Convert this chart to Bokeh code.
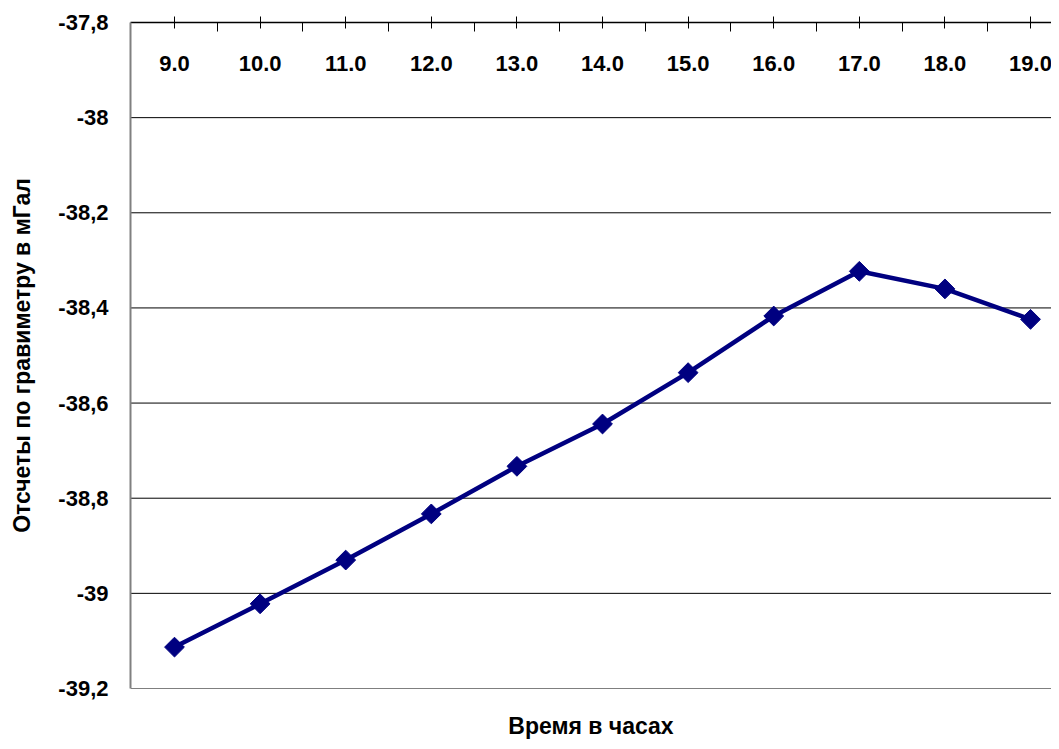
import math
from bokeh.plotting import figure
from bokeh.models import (Range1d, LinearAxis, FixedTicker, CustomJSTickFormatter,
                          ColumnDataSource)
from bokeh.core.properties import value
from bokeh.embed import file_html
from bokeh.resources import INLINE

# ---- data ----
hours = [9, 10, 11, 12, 13, 14, 15, 16, 17, 18, 19]
hour_labels = ["9.0", "10.0", "11.0", "12.0", "13.0", "14.0", "15.0", "16.0", "17.0", "18.0", "19.0"]
readings = [-39.113, -39.022, -38.930, -38.833, -38.733, -38.644, -38.536, -38.417, -38.323, -38.360, -38.424]
y_ticks = [-39.2, -39.0, -38.8, -38.6, -38.4, -38.2, -38.0, -37.8]
x_title = "Время в часах"
y_title = "Отсчеты по гравиметру в мГал"

FONT = "Liberation Sans"
NAVY = "#000080"

p = figure(width=1051, height=741, output_backend="svg", toolbar_location=None,
           x_axis_type=None, y_axis_type=None,
           min_border_left=130, min_border_right=0, min_border_top=22, min_border_bottom=53)
p.x_range = Range1d(hours[0] - 0.514, hours[-1] + 0.245)
p.y_range = Range1d(y_ticks[0], y_ticks[-1])
p.outline_line_color = None
p.background_fill_color = "white"
p.border_fill_color = "white"

# left axis
yax = LinearAxis(ticker=FixedTicker(ticks=y_ticks))
yax.formatter = CustomJSTickFormatter(code="return (Math.round(tick*10)/10).toString().replace('.', ',');")
yax.axis_line_color = "#808080"
yax.axis_line_width = 2
yax.major_tick_line_color = None
yax.minor_tick_line_color = None
yax.major_label_standoff = 16
yax.major_label_text_font = FONT
yax.major_label_text_font_style = "bold"
yax.major_label_text_font_size = "22px"
yax.major_label_text_color = "black"
yax.axis_label = y_title
yax.axis_label_text_font = FONT
yax.axis_label_text_font_style = "bold"
yax.axis_label_text_font_size = "23px"
yax.axis_label_text_color = "black"
yax.axis_label_standoff = 20
p.add_layout(yax, "left")

# top axis (category axis crossing at max)
minor = [h + 0.5 for h in hours[:-1]]
xax = LinearAxis(ticker=FixedTicker(ticks=hours, minor_ticks=minor))
xax.axis_line_color = "black"
xax.axis_line_width = 1.5
xax.major_tick_line_color = "black"
xax.major_tick_in = 6
xax.major_tick_out = 6
xax.minor_tick_line_color = "black"
xax.minor_tick_in = 9
xax.minor_tick_out = 0
xax.major_label_text_font_size = "0px"
xax.major_label_text_alpha = 0
p.add_layout(xax, "above")

# bottom axis only carries the title
bax = LinearAxis(ticker=FixedTicker(ticks=[]))
bax.axis_line_color = None
bax.major_tick_line_color = None
bax.minor_tick_line_color = None
bax.major_label_text_font_size = "0px"
bax.axis_label = x_title
bax.axis_label_text_font = FONT
bax.axis_label_text_font_style = "bold"
bax.axis_label_text_font_size = "23px"
bax.axis_label_text_color = "black"
bax.axis_label_standoff = 24
p.add_layout(bax, "below")

# horizontal gridlines
p.ygrid.grid_line_color = None
p.xgrid.grid_line_color = None
for t in y_ticks[:-1]:
    p.line(x=[p.x_range.start, p.x_range.end], y=[t, t], line_color="#000000", line_width=1)

# data
src = ColumnDataSource(dict(x=hours, y=readings, lab=hour_labels,
                            ytop=[y_ticks[-1]] * len(hours)))
p.line("x", "y", source=src, line_color=NAVY, line_width=4.5)
p.scatter("x", "y", source=src, marker="square", angle=math.pi / 4, size=14,
          fill_color=NAVY, line_color=NAVY)

# category labels inside the plot, under the top axis
p.text("x", "ytop", text="lab", source=src, text_font=value(FONT), text_font_style="bold",
       text_font_size="22px", text_align="center", text_baseline="middle",
       y_offset=41, text_color="black")

open("out.html", "w").write(file_html(p, INLINE))
